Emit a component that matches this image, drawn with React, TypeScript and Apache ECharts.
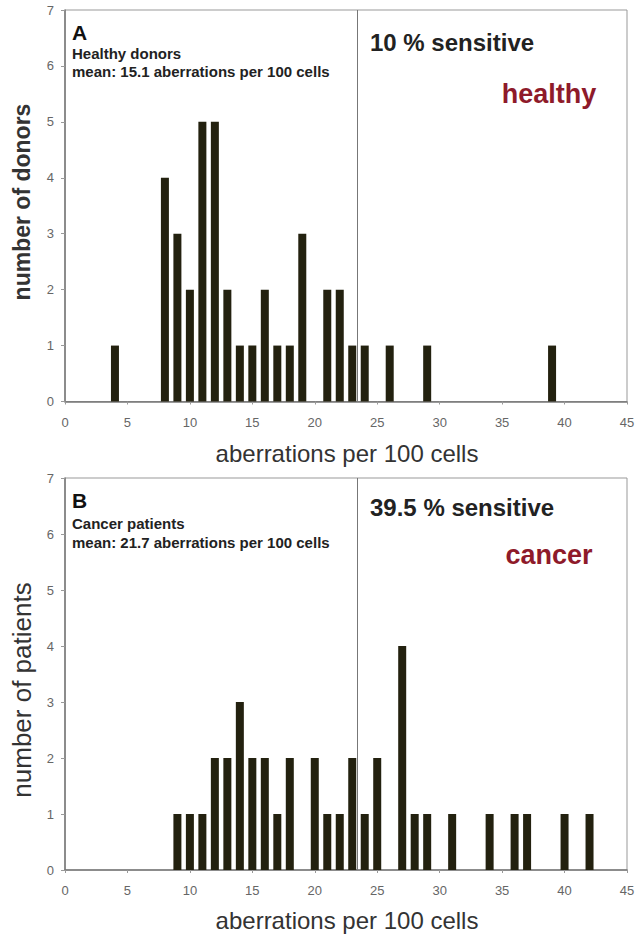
import React, { useEffect, useRef } from "react";
import * as echarts from "echarts";

// Healthy donors (panel A)
const healthyAberrations = [4, 8, 9, 10, 11, 12, 13, 14, 15, 16, 17, 18, 19, 21, 22, 23, 24, 26, 29, 39];
const healthyDonors = [1, 4, 3, 2, 5, 5, 2, 1, 1, 2, 1, 1, 3, 2, 2, 1, 1, 1, 1, 1];

// Cancer patients (panel B)
const cancerAberrations = [9, 10, 11, 12, 13, 14, 15, 16, 17, 18, 20, 21, 22, 23, 24, 25, 27, 28, 29, 31, 34, 36, 37, 40, 42];
const cancerPatients = [1, 1, 1, 2, 2, 3, 2, 2, 1, 2, 2, 1, 1, 2, 1, 2, 4, 1, 1, 1, 1, 1, 1, 1, 1];

const threshold = 23.4;
const xMin = 0;
const xMax = 45;
const xStep = 5;
const yMin = 0;
const yMax = 7;
const yStep = 1;

const xTitle = "aberrations per 100 cells";
const panelA = { letter: "A", group: "Healthy donors", mean: "mean: 15.1 aberrations per 100 cells", sens: "10 % sensitive", tag: "healthy", yTitle: "number of donors" };
const panelB = { letter: "B", group: "Cancer patients", mean: "mean: 21.7 aberrations per 100 cells", sens: "39.5 % sensitive", tag: "cancer", yTitle: "number of patients" };

const FONT = "'Liberation Sans', Arial, sans-serif";
const BAR = "#23210f";
const RED = "#8e1a2a";

export default function App() {
  const ref = useRef<HTMLDivElement>(null);
  useEffect(() => {
    document.body.style.margin = "0";
    if (!ref.current) return;
    const chart = echarts.init(ref.current, null, { renderer: "svg" });

    const grids = [
      { left: 65, top: 10, width: 562, height: 391.5 },
      { left: 65, top: 478, width: 562, height: 392 },
    ];

    const xAxis = grids.map((_, i) => ({
      type: "value",
      gridIndex: i,
      min: xMin,
      max: xMax,
      interval: xStep,
      axisLine: { show: true, onZero: false, lineStyle: { color: "#777", width: 1.5 } },
      axisTick: { show: true, length: 3, lineStyle: { color: "#999" } },
      axisLabel: { fontFamily: FONT, fontSize: 13, color: "#666", margin: 14 },
      splitLine: { show: false },
    }));

    const yAxis = grids.map((_, i) => ({
      type: "value",
      gridIndex: i,
      min: yMin,
      max: yMax,
      interval: yStep,
      axisLine: { show: true, lineStyle: { color: "#777", width: 1.5 } },
      axisTick: { show: true, length: 4, lineStyle: { color: "#999" } },
      axisLabel: { fontFamily: FONT, fontSize: 13, color: "#666", margin: 11 },
      splitLine: { show: false },
    }));

    const mkSeries = (xs: number[], ys: number[], i: number) => ({
      type: "bar",
      xAxisIndex: i,
      yAxisIndex: i,
      data: xs.map((x, k) => [x, ys[k]]),
      barWidth: 8,
      itemStyle: { color: BAR },
      markLine: {
        silent: true,
        symbol: "none",
        label: { show: false },
        lineStyle: { color: "#777", width: 1, type: "solid" },
        data: [{ xAxis: threshold }],
      },
    });

    const panelTexts = (p: typeof panelA, yTitleBold: boolean, yTitleSize: number, yTitleY: number, sensY: number, tagY: number, groupY: number, meanY: number, letterY: number, xTitleY: number) => [
      { type: "text", x: 72, y: letterY, style: { text: p.letter, font: `bold 21px ${FONT}`, fill: "#111", textVerticalAlign: "middle" } },
      { type: "text", x: 72, y: groupY, style: { text: p.group, font: `bold 15px ${FONT}`, fill: "#222", textVerticalAlign: "middle" } },
      { type: "text", x: 72, y: meanY, style: { text: p.mean, font: `bold 15px ${FONT}`, fill: "#222", textVerticalAlign: "middle" } },
      { type: "text", x: 370, y: sensY, style: { text: p.sens, font: `bold 24px ${FONT}`, fill: "#222", textVerticalAlign: "middle" } },
      { type: "text", x: 549, y: tagY, style: { text: p.tag, font: `bold 27px ${FONT}`, fill: RED, textAlign: "center", textVerticalAlign: "middle" } },
      { type: "text", x: 347, y: xTitleY, style: { text: xTitle, font: `24px ${FONT}`, fill: "#333", textAlign: "center", textVerticalAlign: "middle" } },
      { type: "text", x: 22, y: yTitleY, rotation: Math.PI / 2, style: { text: p.yTitle, font: `${yTitleBold ? "bold " : ""}${yTitleSize}px ${FONT}`, fill: "#333", textAlign: "center", textVerticalAlign: "middle" } },
    ];

    chart.setOption({
      animation: false,
      backgroundColor: "#fff",
      grid: grids.map((g) => ({ ...g, show: true, borderColor: "#999", borderWidth: 1, backgroundColor: "transparent" })),
      xAxis,
      yAxis,
      series: [mkSeries(healthyAberrations, healthyDonors, 0), mkSeries(cancerAberrations, cancerPatients, 1)],
      graphic: [
        ...panelTexts(panelA, true, 23, 202, 42, 94, 53, 71, 32, 453),
        ...panelTexts(panelB, false, 26, 690, 507, 555, 523, 542, 500, 920),
      ],
    });
    return () => chart.dispose();
  }, []);
  return <div ref={ref} style={{ width: 638, height: 937 }} />;
}
